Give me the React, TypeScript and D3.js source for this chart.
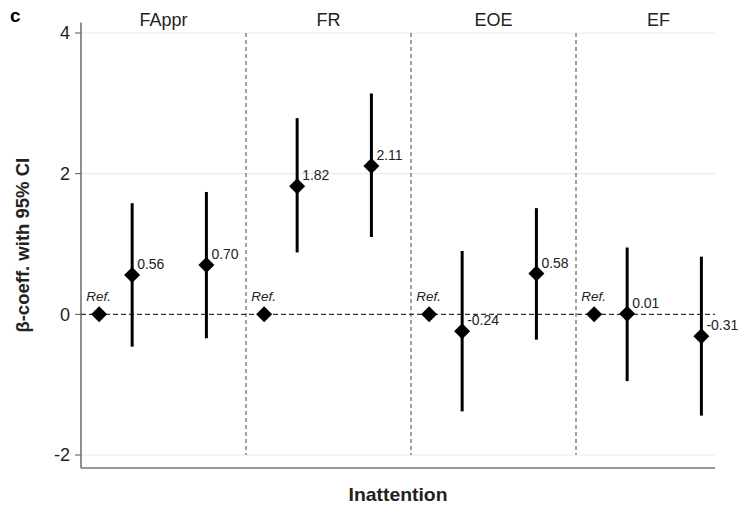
import * as d3 from "d3";

// Panels (outcomes) and the three inattention levels within each
const panels = ["FAppr", "FR", "EOE", "EF"];
const levelX = [1, 2, 4.25];
const estimates = [
  [0, 0.56, 0.7],
  [0, 1.82, 2.11],
  [0, -0.24, 0.58],
  [0, 0.01, -0.31],
];
const estLabels = [
  ["Ref.", "0.56", "0.70"],
  ["Ref.", "1.82", "2.11"],
  ["Ref.", "-0.24", "0.58"],
  ["Ref.", "0.01", "-0.31"],
];
// 95% CI bounds, null for the reference level
const ciLower = [
  [null, -0.46, -0.34],
  [null, 0.88, 1.1],
  [null, -1.38, -0.36],
  [null, -0.95, -1.44],
];
const ciUpper = [
  [null, 1.58, 1.74],
  [null, 2.79, 3.14],
  [null, 0.9, 1.51],
  [null, 0.95, 0.82],
];
const yTicks = [-2, 0, 2, 4];
const gridTicks = [-2, 2, 4];

export default function App() {
  const width = 744;
  const height = 509;
  const left = 81;
  const right = 715;
  const panelW = 165;
  const font = "Liberation Sans, Arial, sans-serif";

  const y = d3.scaleLinear().domain([-2, 4]).range([455, 33]);
  const xPanel = d3.scaleLinear().domain([0, panels.length]).range([left, left + panelW * panels.length]);
  const xLevel = d3.scaleLinear().domain([0.45, 5.45]).range([0, panelW]);
  const axisTop = y(4.15);
  const axisBottom = 468;

  const diamond = d3.symbol().type(d3.symbolSquare).size(128)();

  return (
    <svg
      width={width}
      height={height}
      style={{ position: "absolute", left: 0, top: 0, background: "#fff", fontFamily: font }}
    >
      <rect width={width} height={height} fill="#fff" />
      <text x={10} y={22} fontSize={19} fontWeight="bold">c</text>

      {/* faint gridlines */}
      {gridTicks.map((t) => (
        <line key={t} x1={left} x2={right} y1={y(t)} y2={y(t)} stroke="#ececec" strokeWidth={1.2} />
      ))}

      {/* panel dividers */}
      {panels.slice(1).map((p, i) => (
        <line
          key={p}
          x1={xPanel(i + 1)}
          x2={xPanel(i + 1)}
          y1={y(4)}
          y2={y(-2)}
          stroke="#444"
          strokeWidth={1}
          strokeDasharray="4,3"
        />
      ))}

      {/* zero reference line */}
      <line x1={left} x2={right} y1={y(0)} y2={y(0)} stroke="#333" strokeWidth={1.3} strokeDasharray="5,3" />

      {/* axes */}
      <line x1={left} x2={left} y1={axisTop} y2={axisBottom} stroke="#555" strokeWidth={1.3} />
      <line x1={left} x2={right} y1={axisBottom} y2={axisBottom} stroke="#777" strokeWidth={1.5} />
      {yTicks.map((t) => (
        <g key={t}>
          <line x1={left - 6} x2={left} y1={y(t)} y2={y(t)} stroke="#555" strokeWidth={1} />
          <text x={left - 11} y={y(t)} dy="0.36em" textAnchor="end" fontSize={18} fill="#222">
            {t}
          </text>
        </g>
      ))}

      {/* panel titles */}
      {panels.map((p, i) => (
        <text key={p} x={xPanel(i) + panelW / 2} y={26} textAnchor="middle" fontSize={18} fill="#222">
          {p}
        </text>
      ))}

      {/* estimates */}
      {panels.map((p, i) => (
        <g key={p} transform={`translate(${xPanel(i)},0)`}>
          {levelX.map((lx, j) => {
            const cx = xLevel(lx);
            const cy = y(estimates[i][j]);
            const lo = ciLower[i][j];
            const hi = ciUpper[i][j];
            const isRef = lo === null;
            return (
              <g key={j}>
                {!isRef && (
                  <line x1={cx} x2={cx} y1={y(hi)} y2={y(lo)} stroke="#000" strokeWidth={3} />
                )}
                <path d={diamond} transform={`translate(${cx},${cy}) rotate(45)`} fill="#000" />
                {isRef ? (
                  <text x={cx - 13} y={cy - 13} fontSize={13.5} fontStyle="italic" fill="#222">
                    {estLabels[i][j]}
                  </text>
                ) : (
                  <text x={cx + 5} y={cy - 6} fontSize={14} fill="#222">
                    {estLabels[i][j]}
                  </text>
                )}
              </g>
            );
          })}
        </g>
      ))}

      {/* axis titles */}
      <text
        transform={`translate(29,${(axisTop + axisBottom) / 2}) rotate(-90)`}
        textAnchor="middle"
        fontSize={18.5}
        fontWeight="bold"
        fill="#222"
      >
        β-coeff. with 95% CI
      </text>
      <text
        x={(left + right) / 2}
        y={501}
        textAnchor="middle"
        fontSize={19}
        fontWeight="bold"
        fill="#222"
        textLength={99}
        lengthAdjust="spacingAndGlyphs"
      >
        Inattention
      </text>
    </svg>
  );
}
